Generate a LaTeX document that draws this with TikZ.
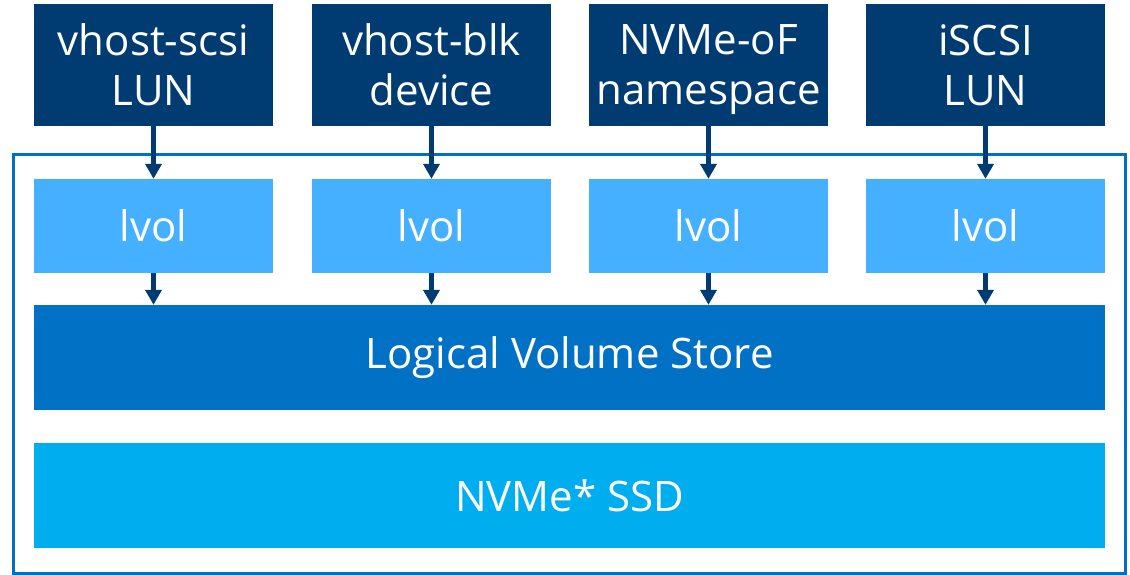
\documentclass[tikz,border=0pt]{standalone}
\usepackage{fontspec}
\setmainfont{Open Sans}
\usetikzlibrary{arrows.meta}
\definecolor{navy}{HTML}{003C71}
\definecolor{lvolblue}{HTML}{45B0FF}
\definecolor{storeblue}{HTML}{0071C5}
\definecolor{ssdblue}{HTML}{00AEEF}
\definecolor{framec}{HTML}{0070C0}
\tikzset{
  box/.style={draw=none, inner sep=0pt, text=white, align=center,
    font=\fontsize{42}{50}\selectfont},
  frontend/.style={box, fill=navy, minimum width=239pt, minimum height=122pt,
    text depth=0pt},
  lvolbox/.style={box, fill=lvolblue, minimum width=239pt, minimum height=94pt},
  wide/.style={box, minimum width=1071pt, minimum height=105pt},
  link/.style={draw=navy, line width=5pt, -{Triangle[length=15pt,width=16pt]}},
}
\begin{document}
\begin{tikzpicture}[x=1pt, y=-1pt]
\useasboundingbox (0,0) rectangle (1130,575);
% outer frame
\draw[framec, line width=3pt] (13,155) rectangle (1125,573);
% front-end boxes
\node[frontend] (f1) at (153.5,65) {vhost-scsi\\LUN};
\node[frontend] (f2) at (431.5,65) {vhost-blk\\device};
\node[frontend] (f3) at (708.5,65) {NVMe-oF\\namespace};
\node[frontend] (f4) at (985.5,65) {iSCSI\\LUN};
% logical volumes
\node[lvolbox] (l1) at (153.5,226) {lvol};
\node[lvolbox] (l2) at (431.5,226) {lvol};
\node[lvolbox] (l3) at (708.5,226) {lvol};
\node[lvolbox] (l4) at (985.5,226) {lvol};
% store and device
\node[wide, fill=storeblue] (lvs) at (569.5,357.5) {Logical Volume Store};
\node[wide, fill=ssdblue] (ssd) at (569.5,495.5) {NVMe* SSD};
% connectors
\foreach \i in {1,2,3,4}{
  \draw[link] (f\i.south) -- (l\i.north);
  \draw[link] (l\i.south) -- (l\i.south |- lvs.north);
}
\end{tikzpicture}
\end{document}
